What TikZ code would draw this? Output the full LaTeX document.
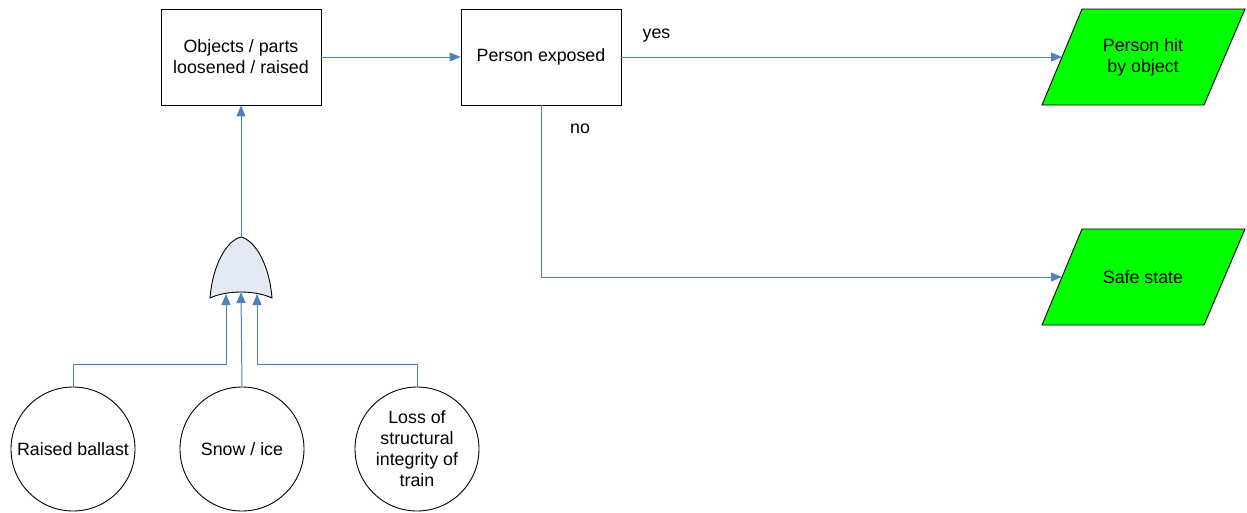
\documentclass[tikz,border=0pt]{standalone}
\usepackage{fontspec}
\setmainfont{Liberation Sans}
\usetikzlibrary{arrows.meta}
\definecolor{lineblue}{HTML}{4F81BD}
\definecolor{gatefill}{HTML}{E4EAF5}
\definecolor{termgreen}{HTML}{00FF00}
\begin{document}
\begin{tikzpicture}[x=1pt,y=-1pt,
  every node/.style={font=\fontsize{17.8}{21}\selectfont, align=center},
  box/.style={draw=black, line width=0.9pt, minimum width=160pt, minimum height=96pt, inner sep=0pt},
  evt/.style={draw=black, circle, line width=0.9pt, minimum size=124pt, inner sep=0pt},
  term/.style={draw=black, fill=termgreen, line width=0.9pt},
  conn/.style={draw=lineblue, line width=1pt},
  arr/.style={conn, -{Triangle[length=11pt,width=9pt]}}]
\useasboundingbox (0,0) rectangle (1247,512);
% boxes
\node[box] (obj) at (241,57) {Objects / parts\\loosened / raised};
\node[box] (exp) at (541,57) {Person exposed};
% terminal parallelograms
\draw[term] (1082,9) -- (1245,9) -- (1204,105) -- (1042,105) -- cycle;
\node (hit) at (1143,57) {Person hit\\by object};
\coordinate (hitin) at (1062,57);
\draw[term] (1082,229) -- (1245,229) -- (1204,325) -- (1042,325) -- cycle;
\node (safe) at (1143,277) {Safe state};
\coordinate (safein) at (1062,277);
% OR gate
\draw[fill=gatefill, line width=0.9pt] (210,298) .. controls (213,262) and (228,240) .. (241,237)
  .. controls (254,240) and (269,262) .. (272,298)
  .. controls (255,290) and (227,290) .. (210,298) -- cycle;
\coordinate (gtop) at (241,237);
\coordinate (gin1) at (226,294);
\coordinate (gin2) at (241,292);
\coordinate (gin3) at (257,294);
% basic events
\node[evt] (ev1) at (73,449) {Raised ballast};
\node[evt] (ev2) at (242,449) {Snow / ice};
\node[evt] (ev3) at (417,449) {Loss of\\structural\\integrity of\\train};
% connectors
\draw[arr] (obj) -- (exp);
\draw[arr] (gtop) -- (obj.south);
\draw[arr] (exp.east) -- (hitin);
\draw[arr] (exp.south) |- (safein);
\node (yes) at ([shift={(35,-21)}]exp.east) {yes};
\node (no) at ([shift={(39,23)}]exp.south) {no};
\draw[arr] (ev1.north) |- (226,364) -- (gin1);
\draw[arr] (ev2.north) -- (gin2);
\draw[arr] (ev3.north) |- (257,364) -- (gin3);
\end{tikzpicture}
\end{document}
